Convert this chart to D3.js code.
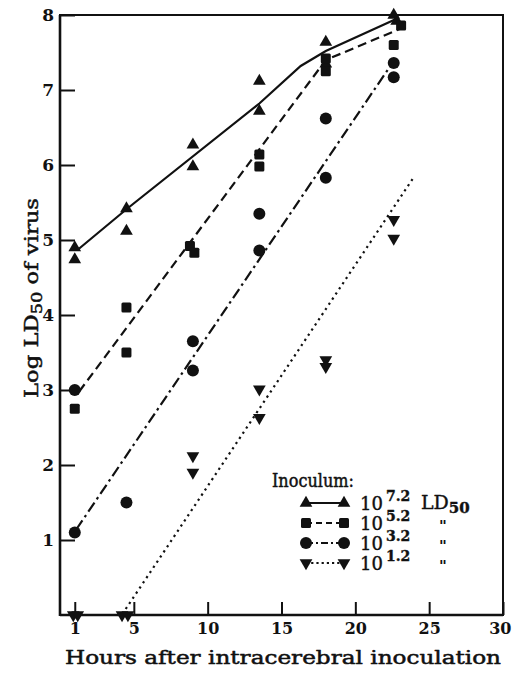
<!DOCTYPE html>
<html><head><meta charset="utf-8">
<script src="https://cdn.jsdelivr.net/npm/d3@7/dist/d3.min.js"></script>
<style>body{margin:0;background:#fff}svg{display:block}</style>
</head><body><svg id="c" width="512" height="673"></svg>
<script>
// ---- data ----
const xTicks = [1, 5, 10, 15, 20, 25, 30];
const yTicks = [1, 2, 3, 4, 5, 6, 7, 8];
const exponents = ["7.2", "5.2", "3.2", "1.2"];
const shapes = ["up", "square", "circle", "down"];
// measured points [hours, log LD50]
const pts72 = [[1,4.9],[1,4.74],[4.5,5.42],[4.5,5.12],[9,6.27],[9,5.98],[13.5,7.12],[13.5,6.72],[18,7.64],[18,7.35],[22.6,8.0],[22.8,7.92]];
const pts52 = [[1,2.75],[4.5,4.1],[4.5,3.5],[8.8,4.92],[9.1,4.83],[13.5,6.14],[13.5,5.98],[18,7.42],[18,7.25],[22.6,7.6],[23.1,7.86]];
const pts32 = [[1,3.0],[1,1.1],[4.5,1.5],[9,3.65],[9,3.26],[13.5,5.35],[13.5,4.86],[18,6.62],[18,5.83],[22.6,7.36],[22.6,7.17]];
const pts12 = [[0.9,0],[1.2,0],[4.2,0],[4.6,0],[9,2.12],[9,1.9],[13.5,3.01],[13.5,2.63],[18,3.4],[18,3.31],[22.6,5.27],[22.6,5.02]];
// fitted curves
const line72 = [[1.2,4.87],[4.5,5.41],[13.5,6.82],[16.3,7.32],[18,7.52],[22.8,7.95]];
const line52 = [[1.3,2.98],[18,7.4],[23.2,7.83]];
const line32 = [[1.1,1.14],[22.3,7.3]];
const line12 = [[4.45,0.08],[23.9,5.82]];

const svg = d3.select("#c");
const x = d3.scaleLinear().domain([0, 30]).range([60, 503]);
const y = d3.scaleLinear().domain([0, 8]).range([615, 15]);
const FONT = "'DejaVu Serif', serif";
const INK = "#111";
function thick(sel, w) { return sel.attr("stroke", INK).attr("stroke-width", w).attr("stroke-linejoin", "round"); }

// frame
svg.append("rect").attr("x", x(0)).attr("y", y(8)).attr("width", x(30)-x(0)).attr("height", y(0)-y(8))
  .attr("fill", "none").attr("stroke", INK).attr("stroke-width", 2);
svg.append("line").attr("x1", x(0)).attr("x2", x(0)).attr("y1", y(8)).attr("y2", y(0)+1).attr("stroke",INK).attr("stroke-width",2.6);
svg.append("line").attr("x1", x(0)).attr("x2", x(30)).attr("y1", y(0)).attr("y2", y(0)).attr("stroke",INK).attr("stroke-width",2.6);

// axes
const xa = svg.append("g").attr("transform", `translate(0,${y(0)})`)
  .call(d3.axisBottom(x).tickValues(xTicks).tickSize(-13).tickPadding(4).tickFormat(d3.format("d")));
xa.select(".domain").remove();
xa.selectAll(".tick line").attr("stroke", INK).attr("stroke-width", 2);
xa.selectAll(".tick text").attr("font-family", FONT).attr("font-weight", "bold").attr("font-size", 16).attr("fill", INK).attr("dy", "0.95em");
xa.selectAll(".tick text").filter(d => d === 30).attr("text-anchor", "end").attr("dx", 8);

const ya = svg.append("g").attr("transform", `translate(${x(0)},0)`)
  .call(d3.axisLeft(y).tickValues(yTicks).tickSize(-15).tickPadding(6).tickFormat(d3.format("d")));
ya.select(".domain").remove();
ya.selectAll(".tick line").attr("stroke", INK).attr("stroke-width", 2);
ya.selectAll(".tick text").attr("font-family", FONT).attr("font-weight", "bold").attr("font-size", 17).attr("fill", INK);

// lines
const lg = d3.line().x(d => x(d[0])).y(d => y(d[1]));
const styles = [
  {data: line72, dash: null},
  {data: line52, dash: "9,5"},
  {data: line32, dash: "11,4,2.5,4"},
  {data: line12, dash: "2.2,4"}
];
styles.forEach(s => {
  svg.append("path").attr("d", lg(s.data)).attr("fill", "none").attr("stroke", INK)
    .attr("stroke-width", 2.2).attr("stroke-dasharray", s.dash);
});

// markers
function marker(g, shape, cx, cy) {
  let p;
  if (shape === "up") p = g.append("path").attr("d", d3.symbol(d3.symbolTriangle, 70)()).attr("transform", `translate(${cx},${cy})`);
  else if (shape === "down") p = g.append("path").attr("d", d3.symbol(d3.symbolTriangle, 70)()).attr("transform", `translate(${cx},${cy}) rotate(180)`);
  else if (shape === "square") p = g.append("rect").attr("x", cx-5).attr("y", cy-5).attr("width", 10).attr("height", 10).attr("rx", 1.5);
  else p = g.append("circle").attr("cx", cx).attr("cy", cy).attr("r", 6);
  p.attr("fill", INK);
}
const allPts = [pts72, pts52, pts32, pts12];
allPts.forEach((arr, i) => {
  const g = svg.append("g");
  arr.forEach(d => marker(g, shapes[i], x(d[0]), y(d[1])));
});

// legend
const leg = svg.append("g");
thick(leg.append("text").attr("x", 272).attr("y", 487).attr("font-family", FONT).attr("font-size", 19)
  .attr("textLength", 82).attr("lengthAdjust", "spacingAndGlyphs").attr("fill", INK).text("Inoculum:"), 0.5);
const rowY = [503, 523, 543, 563];
exponents.forEach((e, i) => {
  const ry = rowY[i];
  leg.append("line").attr("x1", 306).attr("x2", 344).attr("y1", ry).attr("y2", ry).attr("stroke", INK).attr("stroke-width", 2)
    .attr("stroke-dasharray", styles[i].dash ? (i === 3 ? "2.2,3" : i === 2 ? "7,3,2,3" : "6,4") : null);
  marker(leg, shapes[i], 306, ry);
  marker(leg, shapes[i], 344, ry);
  const t = thick(leg.append("text").attr("x", 360).attr("y", ry + 7).attr("font-family", FONT).attr("font-size", 18).attr("fill", INK), 0.4);
  t.append("tspan").text("10");
  t.append("tspan").attr("dx", 3).attr("dy", -9).attr("font-size", 14).attr("font-weight", "bold").text(e);
  if (i === 0) {
    const l = thick(leg.append("text").attr("x", 421).attr("y", ry + 6).attr("font-family", FONT).attr("font-size", 19).attr("fill", INK), 0.4);
    l.append("tspan").text("LD");
    l.append("tspan").attr("dy", 4).attr("font-size", 15).attr("font-weight", "bold").text("50");
  } else {
    leg.append("text").attr("x", 443).attr("y", ry + 8).attr("text-anchor", "middle").attr("font-family", FONT).attr("font-size", 15).attr("font-weight", "bold").attr("fill", INK).text("\"");
  }
});

// axis titles
thick(svg.append("text").attr("x", 283).attr("y", 664).attr("text-anchor", "middle").attr("font-family", FONT)
  .attr("font-size", 18).attr("fill", INK).attr("textLength", 436).attr("lengthAdjust", "spacingAndGlyphs")
  .text("Hours after intracerebral inoculation"), 0.5);
const yt = thick(svg.append("text").attr("transform", "translate(38,298) rotate(-90)").attr("text-anchor", "middle")
  .attr("font-family", FONT).attr("font-size", 19).attr("fill", INK).attr("textLength", 200).attr("lengthAdjust", "spacingAndGlyphs"), 0.5);
yt.append("tspan").text("Log LD");
yt.append("tspan").attr("dy", 4).attr("font-size", 15).text("50");
yt.append("tspan").attr("dy", -4).text(" of virus");
</script></body></html>
